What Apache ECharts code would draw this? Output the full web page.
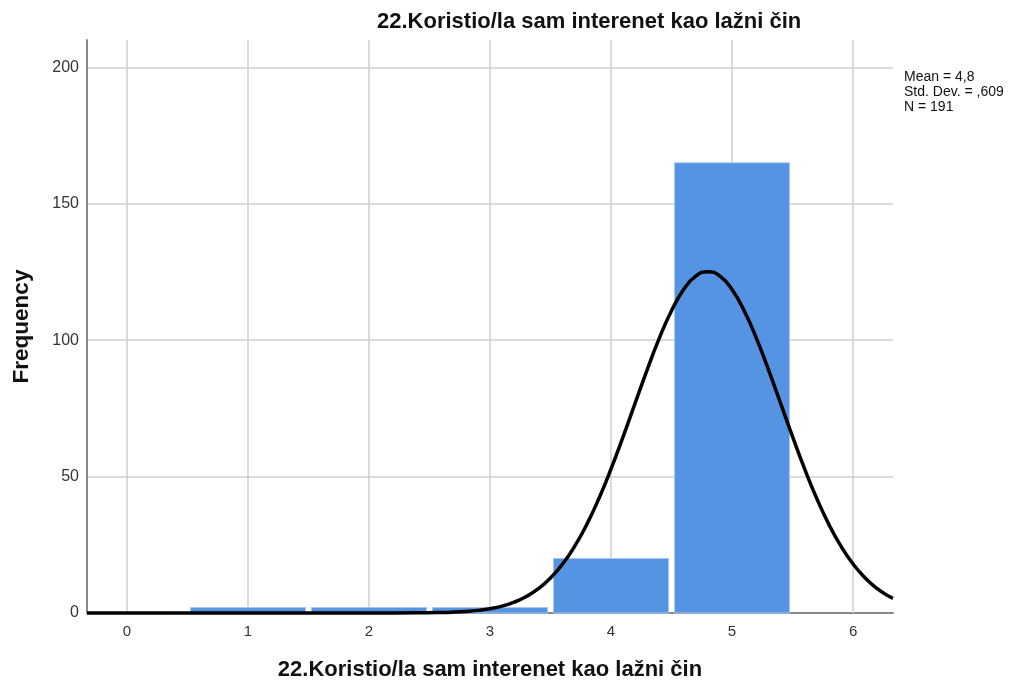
<!DOCTYPE html>
<html>
<head>
<meta charset="utf-8">
<script src="https://cdn.jsdelivr.net/npm/echarts@6/dist/echarts.min.js"></script>
<style>
  html, body { margin: 0; padding: 0; background: #fff; }
  #hist { width: 1018px; height: 686px; }
</style>
</head>
<body>
<div id="hist"></div>
<script>
// histogram values
var binCenters = [1, 2, 3, 4, 5];
var binCounts = [2, 2, 2, 20, 165];
var xTicks = [0, 1, 2, 3, 4, 5, 6];
// normal curve
var curveX = [-0.33, 0, 1, 2, 2.4, 2.6, 2.7, 2.8, 2.9, 3.0, 3.1, 3.2, 3.3, 3.4, 3.5, 3.6, 3.7, 3.8, 3.9, 4.0, 4.1, 4.2, 4.3, 4.4, 4.5, 4.6, 4.7, 4.8,
              4.9, 5.0, 5.1, 5.2, 5.3, 5.4, 5.5, 5.6, 5.7, 5.8, 5.9, 6.0, 6.1, 6.2, 6.3, 6.33];
var curveY = [0, 0, 0, 0, 0.05, 0.18, 0.33, 0.57, 0.96, 1.59, 2.54, 3.97, 6.02, 8.91, 12.82, 17.96, 24.48, 32.49, 41.98, 52.79, 64.62, 77.0, 89.31, 100.83, 110.8, 118.53, 123.43, 125.1,
              123.43, 118.53, 110.8, 100.83, 89.31, 77.0, 64.62, 52.79, 41.98, 32.49, 24.48, 17.96, 12.82, 8.91, 6.02, 5.33];
var statsText = ['Mean = 4,8', 'Std. Dev. = ,609', 'N = 191'];
var titleText = '22.Koristio/la sam interenet kao lažni čin';

var myChart = echarts.init(document.getElementById('hist'));

var curveData = curveX.map(function (x, i) { return [x, curveY[i]]; });
var barData = binCenters.map(function (x, i) { return [x, binCounts[i]]; });

option = {
    animation: false,
    backgroundColor: '#fff',
    textStyle: { fontFamily: 'Liberation Sans, Arial, sans-serif' },
    title: {
        text: titleText,
        left: 372,
        top: 6,
        textStyle: { fontSize: 22, fontWeight: 'bold', color: '#111', fontFamily: 'Liberation Sans, Arial, sans-serif' }
    },
    graphic: [{
        type: 'text',
        left: 904,
        top: 70,
        style: {
            text: statsText.join('\n'),
            fontSize: 14,
            lineHeight: 15,
            fill: '#111',
            fontFamily: 'Liberation Sans, Arial, sans-serif'
        }
    }],
    grid: { left: 87, right: 125, top: 40, bottom: 73 },
    xAxis: {
        type: 'value',
        min: -0.33,
        max: 6.33,
        name: titleText,
        nameLocation: 'middle',
        nameGap: 46,
        nameTextStyle: { fontSize: 22, fontWeight: 'bold', color: '#111' },
        axisLine: { show: true, onZero: false, lineStyle: { color: '#888', width: 2 } },
        axisTick: { show: false },
        axisLabel: { show: false },
        splitLine: { show: false }
    },
    yAxis: {
        type: 'value',
        min: 0,
        max: 210,
        interval: 50,
        name: 'Frequency',
        nameLocation: 'middle',
        nameGap: 54,
        nameTextStyle: { fontSize: 22.5, fontWeight: 'bold', color: '#111' },
        axisLine: { show: true, onZero: false, lineStyle: { color: '#888', width: 2 } },
        axisTick: { show: false },
        axisLabel: { color: '#333', fontSize: 16, margin: 8, showMaxLabel: false },
        splitLine: { show: true, lineStyle: { color: ['#cfcfcf', '#cfcfcf', '#cfcfcf', '#cfcfcf', '#cfcfcf', 'rgba(0,0,0,0)'], width: 1.5 } }
    },
    series: [
        {
            name: 'grid',
            type: 'line',
            z: 1,
            data: [],
            silent: true,
            markLine: {
                silent: true,
                symbol: 'none',
                animation: false,
                lineStyle: { type: 'solid', color: '#cfcfcf', width: 1.5 },
                label: {
                    position: 'start',
                    distance: 11,
                    formatter: '{b}',
                    color: '#333',
                    fontSize: 15
                },
                emphasis: { disabled: true },
                data: xTicks.map(function (v) { return { xAxis: v, name: String(v) }; })
            }
        },
        {
            name: 'Frequency',
            type: 'custom',
            zlevel: 1,
            z: 2,
            data: barData,
            renderItem: function (params, api) {
                var x = api.value(0);
                var y = api.value(1);
                var p0 = api.coord([x - 0.475, y]);
                var p1 = api.coord([x + 0.475, 0]);
                return {
                    type: 'rect',
                    shape: { x: p0[0], y: p0[1], width: p1[0] - p0[0], height: p1[1] - p0[1] },
                    style: { fill: '#5594e2', stroke: '#a9c8ef', lineWidth: 1 }
                };
            }
        },
        {
            name: 'Normal',
            type: 'line',
            zlevel: 1,
            z: 3,
            data: curveData,
            smooth: true,
            showSymbol: false,
            clip: false,
            lineStyle: { color: '#000', width: 3.5 }
        }
    ]
};

myChart.setOption(option);
</script>
</body>
</html>
